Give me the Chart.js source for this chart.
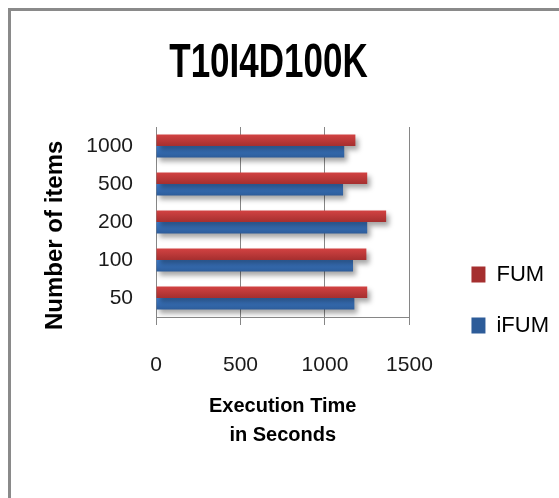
<!DOCTYPE html>
<html>
<head>
<meta charset="utf-8">
<script src="https://cdn.jsdelivr.net/npm/chart.js@4"></script>
<style>
  html, body { margin: 0; padding: 0; background: #fff; }
  #wrap { position: relative; width: 559px; height: 498px; overflow: hidden; }
  #frame {
    position: absolute; left: 8px; top: 8px; width: 600px; height: 600px;
    border-left: 3px solid #8a8a8a; border-top: 3px solid #8a8a8a;
  }
  canvas { position: absolute; left: 0; top: 0; }
</style>
</head>
<body>
<div id="wrap">
  <div id="frame"></div>
  <canvas id="barChart" width="559" height="498"></canvas>
</div>
<script>
const itemCounts = ["1000", "500", "200", "100", "50"];
const fumTimes = [1180, 1250, 1362, 1245, 1250];
const ifumTimes = [1114, 1107, 1250, 1166, 1174];
const timeTicks = [0, 500, 1000, 1500];

const CAT_PCT = 0.6;

// vertical gradient for each bar, based on where the bar sits on the y scale
const barFill = (top, bottom) => (ctx) => {
  const chart = ctx.chart;
  const yScale = chart.scales.y;
  if (!chart.chartArea || !yScale || ctx.dataIndex == null) return top;
  const center = yScale.getPixelForValue(ctx.dataIndex);
  const catSize = chart.chartArea.height / itemCounts.length;
  const half = (catSize * CAT_PCT) / 2;
  const y0 = ctx.datasetIndex === 0 ? center - half : center;
  const g = chart.ctx.createLinearGradient(0, y0, 0, y0 + half);
  g.addColorStop(0, top);
  g.addColorStop(1, bottom);
  return g;
};

// soft drop shadow under the bars
const barShadow = {
  id: "barShadow",
  beforeDatasetsDraw(chart) {
    const c = chart.ctx;
    c.save();
    c.shadowColor = "rgba(0,0,0,0.35)";
    c.shadowBlur = 5;
    c.shadowOffsetX = 3;
    c.shadowOffsetY = 4;
  },
  afterDatasetsDraw(chart) {
    chart.ctx.restore();
  },
};

// the original title is tall and narrow, stretch it a bit vertically
const TITLE_STRETCH = 1.35;
const tallTitle = {
  id: "tallTitle",
  beforeInit(chart) {
    const tb = chart.titleBlock;
    if (!tb) return;
    const drawTitle = tb.draw.bind(tb);
    tb.draw = function () {
      const c = this.ctx;
      const cy = (this.top + this.bottom) / 2 - 1;
      c.save();
      c.translate(-16, cy);
      c.scale(1, TITLE_STRETCH);
      c.translate(0, -cy);
      drawTitle();
      c.restore();
    };
  },
};

const canvasElement = document.getElementById("barChart");

const config = {
  type: "bar",
  data: {
    labels: itemCounts,
    datasets: [
      {
        label: "FUM",
        data: fumTimes,
        backgroundColor: barFill("#d24242", "#a52f2f"),
        borderWidth: 0,
        categoryPercentage: CAT_PCT,
        barPercentage: 1.0,
      },
      {
        label: "iFUM",
        data: ifumTimes,
        backgroundColor: barFill("#3f7fd0", "#2d5c99"),
        borderWidth: 0,
        categoryPercentage: CAT_PCT,
        barPercentage: 1.0,
      },
    ],
  },
  options: {
    indexAxis: "y",
    responsive: false,
    animation: false,
    layout: { padding: { top: 10, left: 10, right: 0, bottom: 26 } },
    scales: {
      x: {
        min: 0,
        max: 1500,
        afterBuildTicks: (scale) => {
          scale.ticks = timeTicks.map((v) => ({ value: v }));
        },
        afterFit: (scale) => {
          scale.height = 155;
        },
        grid: { color: "#868686", lineWidth: 1, tickLength: 8, drawTicks: true },
        border: { display: true, color: "#868686" },
        ticks: {
          padding: 28,
          color: "#1a1a1a",
          font: { family: "Liberation Sans", size: 21 },
          callback: (v) => String(v),
        },
        title: {
          display: true,
          text: ["Execution Time", "in Seconds"],
          color: "#000",
          font: { family: "Liberation Sans", size: 20, weight: "bold", lineHeight: 1.45 },
          padding: { top: 0, bottom: 22 },
        },
      },
      y: {
        afterFit: (scale) => {
          scale.width = 146;
        },
        grid: { display: false, drawTicks: false },
        border: { display: true, color: "#868686" },
        ticks: {
          padding: 23,
          color: "#1a1a1a",
          font: { family: "Liberation Sans", size: 21 },
        },
        title: {
          display: true,
          text: "Number of items\u00a0\u00a0\u00a0\u00a0",
          color: "#000",
          font: { family: "Liberation Sans", size: 24, weight: "bold", lineHeight: 1.2 },
          padding: { top: 31, bottom: 0 },
        },
      },
      // empty axis that only keeps a gap between the plot and the legend
      gap: {
        type: "category",
        position: "right",
        grid: { display: false },
        border: { display: false },
        ticks: { display: false },
        afterFit: (scale) => {
          scale.width = 33;
        },
      },
    },
    plugins: {
      title: {
        display: true,
        text: "T10I4D100K",
        color: "#000",
        font: { family: "Liberation Sans", size: 35, weight: "bold", lineHeight: 1.2 },
        padding: { top: 34, bottom: 41 },
      },
      legend: {
        position: "right",
        maxWidth: 300,
        title: {
          display: true,
          text: "",
          font: { size: 15, lineHeight: 1.2 },
          padding: { top: 100, bottom: 0 },
        },
        labels: {
          boxWidth: 14,
          boxHeight: 16,
          padding: 29,
          color: "#000",
          font: { family: "Liberation Sans", size: 22 },
        },
      },
      tooltip: { enabled: false },
    },
  },
  plugins: [barShadow, tallTitle],
};

const barChart = new Chart(canvasElement, config);
</script>
</body>
</html>
